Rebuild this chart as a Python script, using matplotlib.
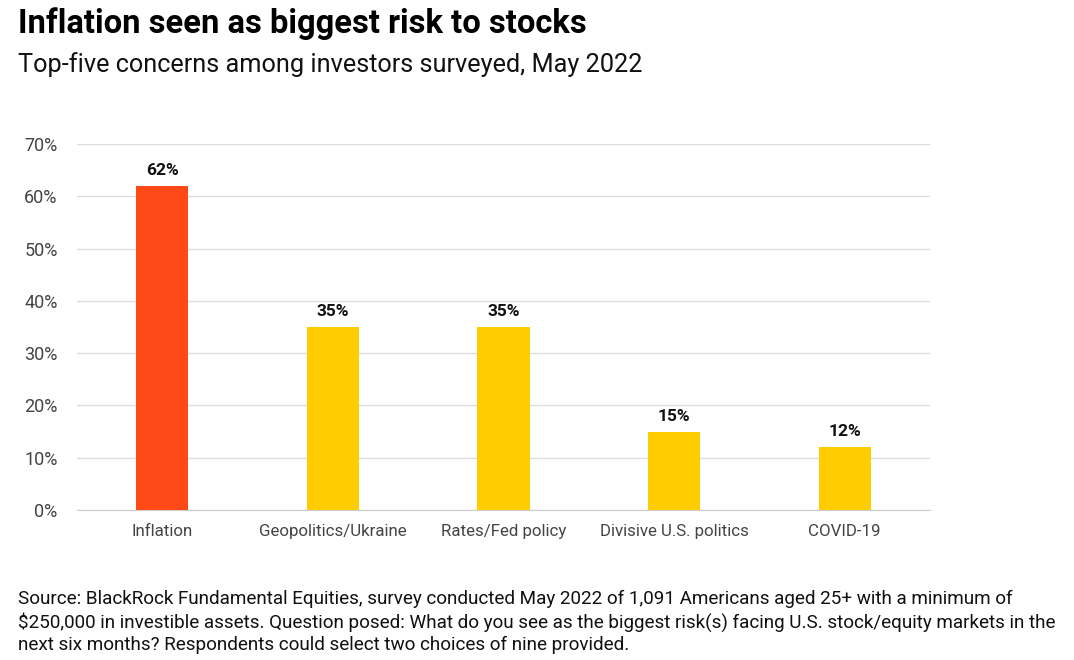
import matplotlib
matplotlib.use("Agg")
import matplotlib.pyplot as plt

# chart data
categories = ["Inflation", "Geopolitics/Ukraine", "Rates/Fed policy", "Divisive U.S. politics", "COVID-19"]
values = [62, 35, 35, 15, 12]
bar_colors = ["#FF4A17", "#FFCC00", "#FFCC00", "#FFCC00", "#FFCC00"]
yticks = [0, 10, 20, 30, 40, 50, 60, 70]

title = "Inflation seen as biggest risk to stocks"
subtitle = "Top-five concerns among investors surveyed, May 2022"
source = ("Source: BlackRock Fundamental Equities, survey conducted May 2022 of 1,091 Americans aged 25+ with a minimum of\n"
          "$250,000 in investible assets. Question posed: What do you see as the biggest risk(s) facing U.S. stock/equity markets in the\n"
          "next six months? Respondents could select two choices of nine provided.")

plt.rcParams['font.family'] = ['Roboto', 'DejaVu Sans']

fig = plt.figure(figsize=(10.74, 6.6), dpi=100)
ax = fig.add_axes([77/1074, 150/660, 853/1074, 366/660])

x = list(range(len(categories)))
ax.bar(x, values, width=0.305, color=bar_colors, zorder=3)
for xi, v in zip(x, values):
    ax.text(xi, v + 1.5, f"{v}%", ha='center', va='bottom', fontsize=12.5, fontweight='bold', color='#111111')

ax.set_xlim(-0.5, len(categories) - 0.5)
ax.set_ylim(0, 70)
ax.set_yticks(yticks)
ax.set_yticklabels([f"{t}%" for t in yticks])
ax.set_xticks(x)
ax.set_xticklabels(categories)
ax.grid(axis='y', color='#dddddd', linewidth=1, zorder=0)
for s in ['top', 'right', 'left']:
    ax.spines[s].set_visible(False)
ax.spines['bottom'].set_color('#cccccc')
ax.tick_params(axis='both', length=0, colors='#444444')
ax.tick_params(axis='x', labelsize=12.2, pad=10)
ax.tick_params(axis='y', labelsize=13, pad=14)

fig.text(18/1074, 1 - 33/660, title, fontsize=23.6, fontweight='bold', color='#000000', ha='left', va='baseline')
fig.text(18/1074, 1 - 72/660, subtitle, fontsize=18.2, color='#111111', ha='left', va='baseline')
fig.text(18/1074, 1 - 650/660, source, fontsize=13.6, color='#111111', ha='left', va='baseline', linespacing=1.28)

fig.savefig("out.png", dpi=100)
